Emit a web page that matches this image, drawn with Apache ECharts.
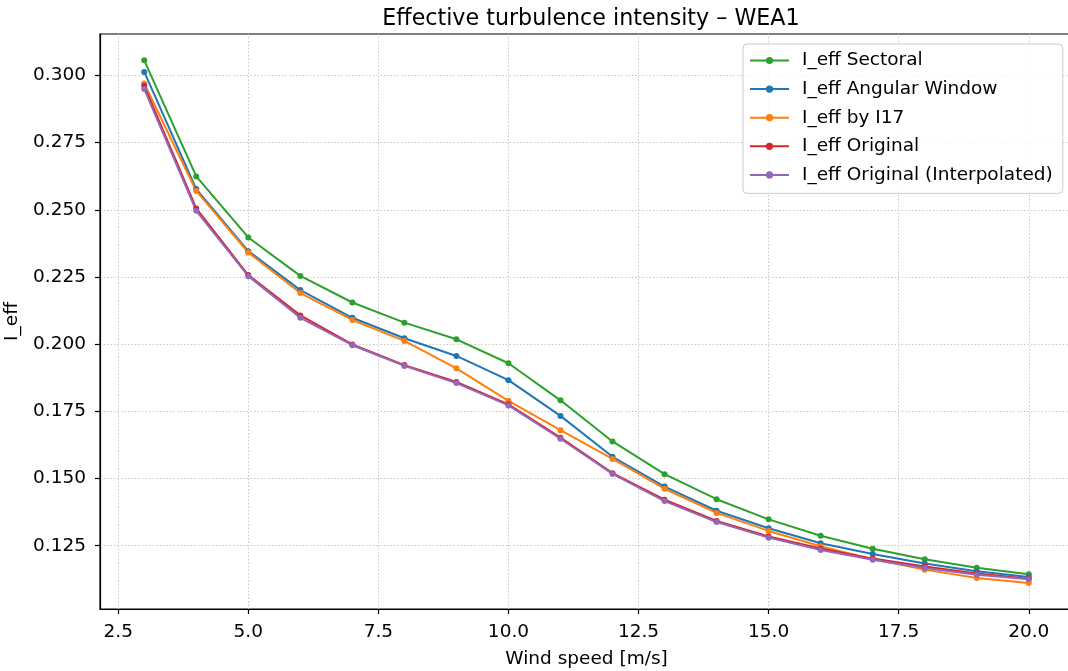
<!DOCTYPE html>
<html>
<head>
<meta charset="utf-8">
<script src="https://cdn.jsdelivr.net/npm/echarts@6/dist/echarts.min.js"></script>
<style>
html,body{margin:0;padding:0;background:#fff;}
#c{width:1068px;height:671px;}
</style>
</head>
<body>
<div id="c"></div>
<script>
const windSpeed = [3,4,5,6,7,8,9,10,11,12,13,14,15,16,17,18,19,20];
const sectoral   = [0.3056,0.2624,0.2397,0.2254,0.2155,0.2080,0.2018,0.1929,0.1791,0.1638,0.1516,0.1423,0.1348,0.1287,0.1239,0.1200,0.1168,0.1144];
const angular    = [0.3013,0.2577,0.2346,0.2201,0.2098,0.2022,0.1956,0.1866,0.1733,0.1581,0.1470,0.1380,0.1315,0.1259,0.1219,0.1184,0.1155,0.1134];
const byI17      = [0.2970,0.2570,0.2341,0.2190,0.2090,0.2012,0.1910,0.1789,0.1680,0.1573,0.1462,0.1372,0.1305,0.1248,0.1200,0.1161,0.1130,0.1111];
const original   = [0.2961,0.2505,0.2257,0.2107,0.1999,0.1922,0.1859,0.1776,0.1652,0.1520,0.1421,0.1342,0.1284,0.1240,0.1202,0.1173,0.1147,0.1127];
const interp     = [0.2949,0.2496,0.2253,0.2098,0.1996,0.1919,0.1855,0.1772,0.1648,0.1517,0.1416,0.1338,0.1280,0.1234,0.1198,0.1167,0.1142,0.1125];
const xTicks = [2.5,5.0,7.5,10.0,12.5,15.0,17.5,20.0];
const yTicks = [0.125,0.150,0.175,0.200,0.225,0.250,0.275,0.300];

const seriesDefs = [
  ['I_eff Sectoral', sectoral, '#2ca02c'],
  ['I_eff Angular Window', angular, '#1f77b4'],
  ['I_eff by I17', byI17, '#ff7f0e'],
  ['I_eff Original', original, '#d62728'],
  ['I_eff Original (Interpolated)', interp, '#9467bd']
];
const FONT = 'DejaVu Sans';
const FS = 18.5;
const chart = echarts.init(document.getElementById('c'), null, {renderer:'canvas'});
chart.setOption({
  animation:false,
  backgroundColor:'#fff',
  title:{text:'Effective turbulence intensity – WEA1', left:586, textAlign:'center', top:3,
    textStyle:{fontFamily:FONT, fontSize:22.2, fontWeight:'normal', color:'#000'}},
  grid:{left:100, top:34, right:-5, bottom:62, containLabel:false, outerBoundsMode:'none',
    show:true, borderColor:'#000', borderWidth:1.2, backgroundColor:'transparent'},
  legend:{orient:'vertical', left:743, top:44, padding:[7,10,9,6], itemWidth:39, itemHeight:9, itemGap:9.6,
    backgroundColor:'rgba(255,255,255,0.8)', borderColor:'#cccccc', borderWidth:1, borderRadius:4,
    textStyle:{fontFamily:FONT, fontSize:FS, color:'#000', padding:[0,0,0,8]},
    data: seriesDefs.map(d=>d[0])},
  xAxis:{type:'value', min:2.15, max:20.85,
    name:'Wind speed [m/s]', nameLocation:'middle', nameGap:41,
    nameTextStyle:{fontFamily:FONT, fontSize:FS, color:'#000'},
    axisLine:{show:true, onZero:false, lineStyle:{color:'#000', width:1.2}},
    axisTick:{show:true, length:5, customValues:xTicks, lineStyle:{color:'#000', width:1.2}},
    axisLabel:{customValues:xTicks, margin:14, fontFamily:FONT, fontSize:FS, color:'#000', formatter:v=>v.toFixed(1)},
    splitLine:{show:true, lineStyle:{color:'#c8c8c8', width:1, type:[1.5,2]}}
  },
  yAxis:{type:'value', min:0.10145, max:0.3154,
    name:'I_eff', nameLocation:'middle', nameGap:66,
    nameTextStyle:{fontFamily:FONT, fontSize:FS, color:'#000'},
    axisLine:{show:true, onZero:false, lineStyle:{color:'#000', width:1.2}},
    axisTick:{show:true, length:5, customValues:yTicks, lineStyle:{color:'#000', width:1.2}},
    axisLabel:{customValues:yTicks, margin:14, fontFamily:FONT, fontSize:FS, color:'#000', formatter:v=>v.toFixed(3)},
    splitLine:{show:true, lineStyle:{color:'#c8c8c8', width:1, type:[1.5,2]}}
  },
  series: seriesDefs.map(d=>({
    name:d[0], type:'line', data: windSpeed.map((x,i)=>[x,d[1][i]]),
    symbol:'circle', symbolSize:6, showSymbol:true,
    lineStyle:{color:d[2], width:2}, itemStyle:{color:d[2]}, z:2
  }))
});
</script>
</body>
</html>
